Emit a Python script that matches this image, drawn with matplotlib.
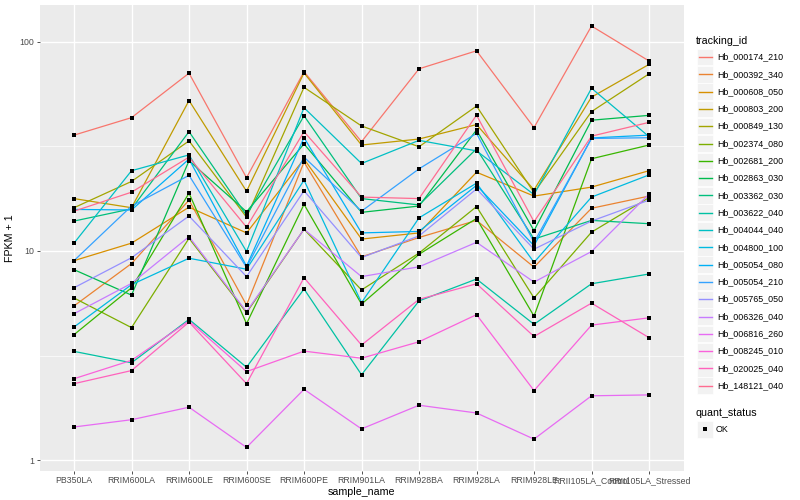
import matplotlib
matplotlib.use("Agg")
import matplotlib.pyplot as plt
from matplotlib.patches import Rectangle

plt.rcParams['font.family'] = ['Liberation Sans', 'DejaVu Sans']

samples = ['PB350LA', 'RRIM600LA', 'RRIM600LE', 'RRIM600SE', 'RRIM600PE', 'RRIM901LA',
           'RRIM928BA', 'RRIM928LA', 'RRIM928LE', 'RRII105LA_Control', 'RRII105LA_Stressed']

# FPKM + 1 per gene
hb_000174_210 = [35.8, 43.4, 70.8, 22.4, 72.0, 33.3, 74.3, 90.6, 38.9, 119.0, 81.0]
hb_000392_340 = [5.46, 8.71, 17.5, 5.51, 26.6, 9.37, 11.6, 14.0, 8.37, 16.0, 18.3]
hb_000608_050 = [8.99, 10.9, 16.2, 12.2, 27.5, 11.4, 12.2, 23.8, 18.3, 20.2, 24.2]
hb_000803_200 = [17.8, 16.1, 52.4, 19.3, 71.0, 32.1, 34.3, 40.2, 19.6, 54.4, 78.0]
hb_000849_130 = [16.1, 21.5, 33.6, 14.5, 60.6, 39.6, 31.5, 49.3, 19.0, 46.4, 70.3]
hb_002374_080 = [5.96, 4.30, 11.5, 5.07, 12.7, 6.51, 9.77, 16.3, 5.96, 12.3, 18.0]
hb_002681_200 = [3.98, 6.67, 18.9, 4.49, 16.7, 5.57, 9.64, 14.3, 4.88, 27.6, 32.1]
hb_002863_030 = [8.14, 6.15, 27.0, 15.4, 32.5, 15.3, 16.4, 37.9, 12.5, 42.2, 44.5]
hb_003362_030 = [13.9, 15.9, 37.2, 14.8, 44.3, 17.8, 16.6, 30.8, 11.4, 14.0, 13.5]
hb_003622_040 = [3.31, 2.92, 4.71, 2.78, 6.58, 2.56, 5.77, 7.34, 4.46, 6.97, 7.76]
hb_004044_040 = [10.9, 24.2, 28.8, 9.94, 48.4, 26.2, 33.8, 30.1, 18.6, 60.0, 35.2]
hb_004800_100 = [4.33, 6.90, 9.23, 8.18, 21.8, 5.66, 14.4, 21.1, 8.82, 18.1, 23.1]
hb_005054_080 = [15.8, 15.7, 27.5, 8.46, 34.8, 12.2, 12.4, 20.6, 10.6, 34.7, 35.8]
hb_005054_210 = [8.99, 16.4, 23.0, 8.34, 28.1, 15.5, 24.7, 36.5, 11.0, 34.5, 34.8]
hb_005765_050 = [6.67, 9.28, 14.7, 7.54, 19.4, 9.30, 11.8, 19.8, 10.2, 13.9, 17.5]
hb_006326_040 = [5.01, 7.00, 11.7, 5.13, 12.7, 7.54, 8.40, 11.0, 7.10, 9.94, 18.7]
hb_006816_260 = [1.44, 1.56, 1.79, 1.15, 2.18, 1.41, 1.83, 1.68, 1.26, 2.03, 2.05]
hb_008245_010 = [2.45, 3.00, 4.63, 2.65, 3.32, 3.07, 3.68, 4.96, 2.15, 4.42, 4.79]
hb_020025_040 = [2.32, 2.68, 4.57, 2.32, 7.45, 3.55, 5.87, 6.97, 3.90, 5.63, 3.85]
hb_148121_040 = [15.5, 19.1, 28.1, 13.0, 37.2, 18.1, 17.8, 44.6, 13.8, 35.4, 41.2]

tracking_ids = ['Hb_000174_210', 'Hb_000392_340', 'Hb_000608_050', 'Hb_000803_200',
                'Hb_000849_130', 'Hb_002374_080', 'Hb_002681_200', 'Hb_002863_030',
                'Hb_003362_030', 'Hb_003622_040', 'Hb_004044_040', 'Hb_004800_100',
                'Hb_005054_080', 'Hb_005054_210', 'Hb_005765_050', 'Hb_006326_040',
                'Hb_006816_260', 'Hb_008245_010', 'Hb_020025_040', 'Hb_148121_040']
series = [hb_000174_210, hb_000392_340, hb_000608_050, hb_000803_200, hb_000849_130,
          hb_002374_080, hb_002681_200, hb_002863_030, hb_003362_030, hb_003622_040,
          hb_004044_040, hb_004800_100, hb_005054_080, hb_005054_210, hb_005765_050,
          hb_006326_040, hb_006816_260, hb_008245_010, hb_020025_040, hb_148121_040]

# ggplot hue palette, 20 levels
colors = ['#F8766D', '#EA8331', '#D89000', '#C09B00', '#A3A500', '#7CAE00', '#39B600',
          '#00BB4E', '#00BF7D', '#00C1A3', '#00BFC4', '#00BAE0', '#00B0F6', '#35A2FF',
          '#9590FF', '#C77CFF', '#E76BF3', '#FA62DB', '#FF62BC', '#FF6C91']

fig = plt.figure(figsize=(8, 5), dpi=100)
ax = fig.add_axes([0.0494, 0.058, 0.8050, 0.932])
ax.set_facecolor('#EBEBEB')

x = list(range(len(samples)))
for vals, col in zip(series, colors):
    ax.plot(x, vals, color=col, lw=0.9, zorder=2)
for vals in series:
    ax.scatter(x, vals, marker='s', s=7.5, color='black', linewidths=0, zorder=3)

ax.set_yscale('log')
ax.set_ylim(0.887, 150)
ax.set_xlim(-0.6, len(samples) - 0.4)
ax.set_yticks([1, 10, 100])
ax.set_yticklabels(['1', '10', '100'])
ax.set_yticks([10 ** 0.5, 10 ** 1.5], minor=True)
ax.set_yticklabels([], minor=True)
ax.set_xticks(x)
ax.set_xticklabels(samples)
ax.tick_params(axis='both', which='major', length=2.2, width=0.6, color='#333333',
               labelsize=6.3, labelcolor='#4D4D4D', pad=1.5)
ax.tick_params(axis='y', which='minor', length=0)
ax.grid(True, which='major', color='white', lw=1.0)
ax.grid(True, which='minor', axis='y', color='white', lw=0.5)
ax.set_axisbelow(True)
for sp in ax.spines.values():
    sp.set_visible(False)
ax.set_xlabel('sample_name', fontsize=7.7, labelpad=1)
ax.set_ylabel('FPKM + 1', fontsize=7.7, labelpad=3)

# legend drawn in pixel space on an overlay axes
lax = fig.add_axes([0, 0, 1, 1])
lax.set_xlim(0, 800)
lax.set_ylim(500, 0)
lax.axis('off')
lax.text(696, 40.5, 'tracking_id', fontsize=7.7, va='center', ha='left')
for i, (name, col) in enumerate(zip(tracking_ids, colors)):
    yy = 57 + i * 17.3
    lax.add_patch(Rectangle((697, yy - 8.3), 16, 16.6, facecolor='#F2F2F2', edgecolor='white', lw=0.5))
    lax.plot([698.5, 711.5], [yy, yy], color=col, lw=1.0)
    lax.text(717, yy, name, fontsize=6.4, va='center', ha='left')
lax.text(696, 412.5, 'quant_status', fontsize=7.7, va='center', ha='left')
lax.add_patch(Rectangle((697, 421), 16, 16.6, facecolor='#F2F2F2', edgecolor='white', lw=0.5))
lax.scatter([705], [429.3], marker='s', s=7.5, color='black', linewidths=0)
lax.text(716, 429.3, 'OK', fontsize=6.4, va='center', ha='left')

fig.savefig('out.png', dpi=100)
